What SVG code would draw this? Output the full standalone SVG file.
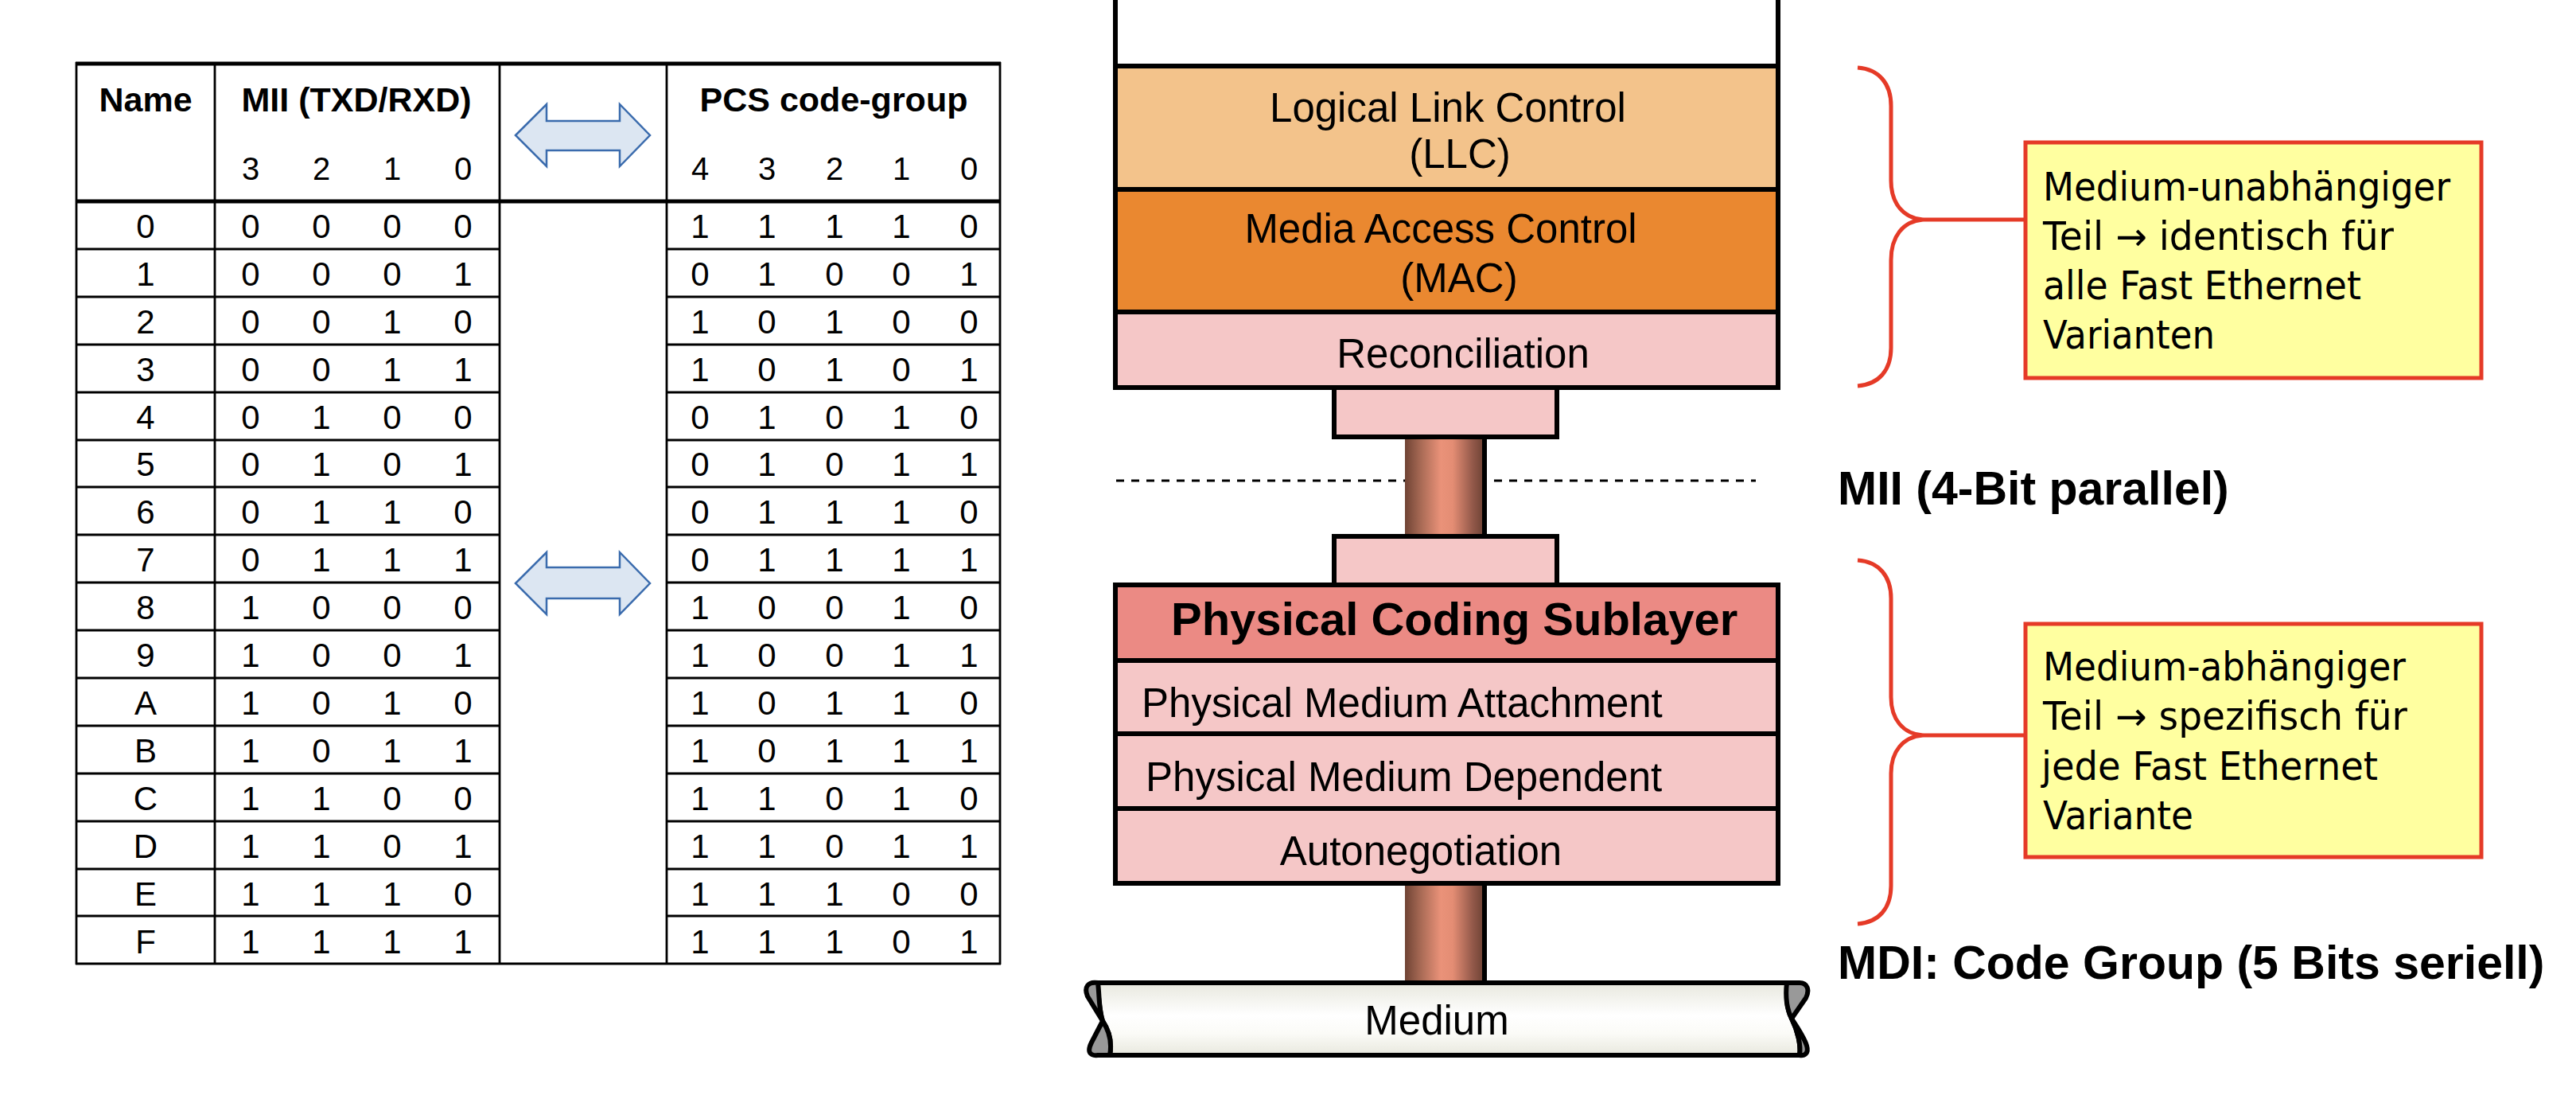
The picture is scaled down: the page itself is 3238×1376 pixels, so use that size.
<svg xmlns="http://www.w3.org/2000/svg" width="3238" height="1376" viewBox="0 0 3238 1376">
<style>
.t{font-family:"Liberation Sans",Arial,sans-serif;fill:#000}
.d{font-size:42px;text-anchor:middle}
.h{font-size:43px;font-weight:bold;text-anchor:middle}
.hb{font-size:40px;text-anchor:middle}
.g{stroke:#000;stroke-width:2.8;fill:none}
.gt{stroke:#000;stroke-width:5;fill:none}
.ly{stroke:#000;stroke-width:6}
.lt{font-size:51px}
.c{text-anchor:middle}
.lab{font-size:59px;font-weight:bold}
.co{font-family:"DejaVu Sans","Liberation Sans",sans-serif;font-size:49px;fill:#000}
.box{fill:#FFFFA0;stroke:#E53A27;stroke-width:5}
.br{fill:none;stroke:#E53A27;stroke-width:5}
.arr{fill:#DCE6F2;stroke:#3A6BAD;stroke-width:2.5}
</style>
<defs>
<linearGradient id="cu" x1="0" y1="0" x2="1" y2="0">
<stop offset="0" stop-color="#6F4334"/>
<stop offset="0.2" stop-color="#A86A55"/>
<stop offset="0.45" stop-color="#EA9279"/>
<stop offset="0.6" stop-color="#E48D74"/>
<stop offset="0.85" stop-color="#93594A"/>
<stop offset="1" stop-color="#6B4133"/>
</linearGradient>
<linearGradient id="med" x1="0" y1="0" x2="0" y2="1">
<stop offset="0" stop-color="#E8E8DE"/>
<stop offset="0.45" stop-color="#FFFFFF"/>
<stop offset="0.7" stop-color="#FBFBF7"/>
<stop offset="1" stop-color="#E8E8DE"/>
</linearGradient>
<filter id="blur" x="-5%" y="-200%" width="110%" height="500%">
<feGaussianBlur stdDeviation="3"/>
</filter>
</defs>
<rect width="3238" height="1376" fill="#fff"/>

<g id="table">
<rect x="95" y="80" width="1163" height="1131" fill="#fff"/>
<line class="gt" x1="95" y1="80" x2="1258" y2="80"/>
<line class="gt" x1="95" y1="253" x2="1258" y2="253"/>
<line class="g" x1="95" y1="1211" x2="1258" y2="1211"/>
<line class="g" x1="96" y1="78" x2="96" y2="1212"/>
<line class="g" x1="270" y1="78" x2="270" y2="1212"/>
<line class="g" x1="628" y1="78" x2="628" y2="1212"/>
<line class="g" x1="838" y1="78" x2="838" y2="1212"/>
<line class="g" x1="1257" y1="78" x2="1257" y2="1212"/>
<g class="g">
<path d="M95 313H628M838 313H1258M95 373H628M838 373H1258M95 433H628M838 433H1258M95 493H628M838 493H1258M95 553H628M838 553H1258M95 612H628M838 612H1258M95 672H628M838 672H1258M95 732H628M838 732H1258M95 792H628M838 792H1258M95 852H628M838 852H1258M95 912H628M838 912H1258M95 972H628M838 972H1258M95 1032H628M838 1032H1258M95 1092H628M838 1092H1258M95 1151H628M838 1151H1258"/>
</g>
<text class="t h" x="183" y="140">Name</text>
<text class="t h" x="448" y="140">MII (TXD/RXD)</text>
<text class="t h" x="1048" y="140">PCS code-group</text>
<g class="t hb">
<text x="315" y="226">3</text><text x="404" y="226">2</text><text x="493" y="226">1</text><text x="582" y="226">0</text>
<text x="880" y="226">4</text><text x="964" y="226">3</text><text x="1049" y="226">2</text><text x="1133" y="226">1</text><text x="1218" y="226">0</text>
</g>
<g class="t d">
<text x="183" y="299">0</text><text x="315" y="299">0</text><text x="404" y="299">0</text><text x="493" y="299">0</text><text x="582" y="299">0</text><text x="880" y="299">1</text><text x="964" y="299">1</text><text x="1049" y="299">1</text><text x="1133" y="299">1</text><text x="1218" y="299">0</text>
<text x="183" y="359">1</text><text x="315" y="359">0</text><text x="404" y="359">0</text><text x="493" y="359">0</text><text x="582" y="359">1</text><text x="880" y="359">0</text><text x="964" y="359">1</text><text x="1049" y="359">0</text><text x="1133" y="359">0</text><text x="1218" y="359">1</text>
<text x="183" y="419">2</text><text x="315" y="419">0</text><text x="404" y="419">0</text><text x="493" y="419">1</text><text x="582" y="419">0</text><text x="880" y="419">1</text><text x="964" y="419">0</text><text x="1049" y="419">1</text><text x="1133" y="419">0</text><text x="1218" y="419">0</text>
<text x="183" y="479">3</text><text x="315" y="479">0</text><text x="404" y="479">0</text><text x="493" y="479">1</text><text x="582" y="479">1</text><text x="880" y="479">1</text><text x="964" y="479">0</text><text x="1049" y="479">1</text><text x="1133" y="479">0</text><text x="1218" y="479">1</text>
<text x="183" y="539">4</text><text x="315" y="539">0</text><text x="404" y="539">1</text><text x="493" y="539">0</text><text x="582" y="539">0</text><text x="880" y="539">0</text><text x="964" y="539">1</text><text x="1049" y="539">0</text><text x="1133" y="539">1</text><text x="1218" y="539">0</text>
<text x="183" y="598">5</text><text x="315" y="598">0</text><text x="404" y="598">1</text><text x="493" y="598">0</text><text x="582" y="598">1</text><text x="880" y="598">0</text><text x="964" y="598">1</text><text x="1049" y="598">0</text><text x="1133" y="598">1</text><text x="1218" y="598">1</text>
<text x="183" y="658">6</text><text x="315" y="658">0</text><text x="404" y="658">1</text><text x="493" y="658">1</text><text x="582" y="658">0</text><text x="880" y="658">0</text><text x="964" y="658">1</text><text x="1049" y="658">1</text><text x="1133" y="658">1</text><text x="1218" y="658">0</text>
<text x="183" y="718">7</text><text x="315" y="718">0</text><text x="404" y="718">1</text><text x="493" y="718">1</text><text x="582" y="718">1</text><text x="880" y="718">0</text><text x="964" y="718">1</text><text x="1049" y="718">1</text><text x="1133" y="718">1</text><text x="1218" y="718">1</text>
<text x="183" y="778">8</text><text x="315" y="778">1</text><text x="404" y="778">0</text><text x="493" y="778">0</text><text x="582" y="778">0</text><text x="880" y="778">1</text><text x="964" y="778">0</text><text x="1049" y="778">0</text><text x="1133" y="778">1</text><text x="1218" y="778">0</text>
<text x="183" y="838">9</text><text x="315" y="838">1</text><text x="404" y="838">0</text><text x="493" y="838">0</text><text x="582" y="838">1</text><text x="880" y="838">1</text><text x="964" y="838">0</text><text x="1049" y="838">0</text><text x="1133" y="838">1</text><text x="1218" y="838">1</text>
<text x="183" y="898">A</text><text x="315" y="898">1</text><text x="404" y="898">0</text><text x="493" y="898">1</text><text x="582" y="898">0</text><text x="880" y="898">1</text><text x="964" y="898">0</text><text x="1049" y="898">1</text><text x="1133" y="898">1</text><text x="1218" y="898">0</text>
<text x="183" y="958">B</text><text x="315" y="958">1</text><text x="404" y="958">0</text><text x="493" y="958">1</text><text x="582" y="958">1</text><text x="880" y="958">1</text><text x="964" y="958">0</text><text x="1049" y="958">1</text><text x="1133" y="958">1</text><text x="1218" y="958">1</text>
<text x="183" y="1018">C</text><text x="315" y="1018">1</text><text x="404" y="1018">1</text><text x="493" y="1018">0</text><text x="582" y="1018">0</text><text x="880" y="1018">1</text><text x="964" y="1018">1</text><text x="1049" y="1018">0</text><text x="1133" y="1018">1</text><text x="1218" y="1018">0</text>
<text x="183" y="1078">D</text><text x="315" y="1078">1</text><text x="404" y="1078">1</text><text x="493" y="1078">0</text><text x="582" y="1078">1</text><text x="880" y="1078">1</text><text x="964" y="1078">1</text><text x="1049" y="1078">0</text><text x="1133" y="1078">1</text><text x="1218" y="1078">1</text>
<text x="183" y="1138">E</text><text x="315" y="1138">1</text><text x="404" y="1138">1</text><text x="493" y="1138">1</text><text x="582" y="1138">0</text><text x="880" y="1138">1</text><text x="964" y="1138">1</text><text x="1049" y="1138">1</text><text x="1133" y="1138">0</text><text x="1218" y="1138">0</text>
<text x="183" y="1198">F</text><text x="315" y="1198">1</text><text x="404" y="1198">1</text><text x="493" y="1198">1</text><text x="582" y="1198">1</text><text x="880" y="1198">1</text><text x="964" y="1198">1</text><text x="1049" y="1198">1</text><text x="1133" y="1198">0</text><text x="1218" y="1198">1</text>
</g>
</g>

<g id="arrow-header">
<polygon class="arr" points="648,170 687,131 687,152 779,152 779,131 817,170 779,209 779,189 687,189 687,209"/>
</g>
<g id="arrow-rows">
<polygon class="arr" points="648,733 687,694 687,713 779,713 779,694 817,733 779,772 779,752 687,752 687,772"/>
</g>

<g id="dashed-mii">
<line x1="1403" y1="614" x2="2207" y2="614" stroke="#B0B0B0" stroke-width="5" stroke-dasharray="10 9" filter="url(#blur)"/>
<line x1="1403" y1="604" x2="2207" y2="604" stroke="#000" stroke-width="3" stroke-dasharray="10 9"/>
</g>

<g id="cable-mii">
<rect x="1766" y="549" width="100" height="125" fill="url(#cu)"/>
<line x1="1866" y1="549" x2="1866" y2="674" stroke="#000" stroke-width="6"/>
</g>
<g id="cable-mdi">
<rect x="1766" y="1110" width="100" height="125" fill="url(#cu)"/>
<line x1="1866" y1="1110" x2="1866" y2="1235" stroke="#000" stroke-width="6"/>
</g>

<g id="upper-layer">
<rect class="ly" x="1402" y="-10" width="833" height="93" fill="#fff"/>
</g>
<g id="llc">
<rect class="ly" x="1402" y="83" width="833" height="155" fill="#F3C38B"/>
<text class="t lt c" x="1820" y="153">Logical Link Control</text>
<text class="t lt c" x="1835" y="211">(LLC)</text>
</g>
<g id="mac">
<rect class="ly" x="1402" y="238" width="833" height="154" fill="#EA8830"/>
<text class="t lt c" x="1811" y="305">Media Access Control</text>
<text class="t lt c" x="1834" y="367">(MAC)</text>
</g>
<g id="reconciliation">
<rect class="ly" x="1402" y="392" width="833" height="95" fill="#F5C7C7"/>
<text class="t lt c" x="1839" y="462">Reconciliation</text>
</g>
<g id="mii-upper-block">
<rect class="ly" x="1677" y="487" width="280" height="62" fill="#F5C7C7"/>
</g>
<g id="mii-lower-block">
<rect class="ly" x="1677" y="674" width="280" height="61" fill="#F5C7C7"/>
</g>
<g id="pcs">
<rect class="ly" x="1402" y="735" width="833" height="95" fill="#EB8A84"/>
<text class="t" x="1472" y="798" font-size="58" font-weight="bold">Physical Coding Sublayer</text>
</g>
<g id="pma">
<rect class="ly" x="1402" y="830" width="833" height="92" fill="#F5C7C7"/>
<text class="t lt" x="1435" y="901">Physical Medium Attachment</text>
</g>
<g id="pmd">
<rect class="ly" x="1402" y="922" width="833" height="94" fill="#F5C7C7"/>
<text class="t lt" x="1440" y="994">Physical Medium Dependent</text>
</g>
<g id="autonegotiation">
<rect class="ly" x="1402" y="1016" width="833" height="94" fill="#F5C7C7"/>
<text class="t lt c" x="1786" y="1087">Autonegotiation</text>
</g>

<g id="medium">
<path d="M1378,1235 L2250,1235 C2244,1252 2246,1268 2252,1280 C2260,1296 2264,1314 2262,1326 L1395,1326 C1398,1310 1394,1295 1386,1283 C1381,1268 1382,1250 1378,1235 Z" fill="url(#med)" stroke="#000" stroke-width="6" stroke-linejoin="round"/>
<path d="M1380,1235 C1368,1233 1362,1240 1367,1252 L1386,1283 L1372,1310 C1366,1322 1370,1327 1380,1326 L1395,1326 C1398,1310 1394,1295 1386,1283 C1381,1268 1382,1250 1380,1235 Z" fill="#999" stroke="#000" stroke-width="6" stroke-linejoin="round"/>
<path d="M2246,1235 L2262,1235 C2272,1235 2275,1244 2270,1254 L2252,1280 C2246,1268 2244,1252 2246,1235 Z" fill="#999" stroke="#000" stroke-width="6" stroke-linejoin="round"/>
<path d="M2252,1280 C2260,1292 2268,1304 2271,1314 C2274,1324 2268,1327 2262,1326 C2264,1314 2260,1296 2252,1280 Z" fill="#999" stroke="#000" stroke-width="6" stroke-linejoin="round"/>
<text class="t lt c" x="1806" y="1300">Medium</text>
</g>

<g id="label-mii">
<text class="t lab" x="2310" y="634" font-size="58">MII (4-Bit parallel)</text>
</g>
<g id="label-mdi">
<text class="t lab" x="2310" y="1230">MDI: Code Group (5 Bits seriell)</text>
</g>

<g id="connectors">
<path class="br" d="M2335,85 C2362,87 2377,105 2377,133 L2377,227 C2377,255 2392,274 2417,276 C2392,278 2377,297 2377,327 L2377,437 C2377,465 2362,483 2335,485"/>
<line class="br" x1="2417" y1="276" x2="2546" y2="276"/>
<path class="br" d="M2335,704 C2362,706 2377,724 2377,752 L2377,876 C2377,904 2392,922 2417,924 C2392,926 2377,944 2377,972 L2377,1113 C2377,1141 2362,1159 2335,1161"/>
<line class="br" x1="2417" y1="924" x2="2546" y2="924"/>
</g>

<g id="callout-independent">
<rect class="box" x="2546" y="179" width="573" height="296"/>
<text class="co" x="2568" y="252" textLength="512" lengthAdjust="spacingAndGlyphs">Medium-unabhängiger</text>
<text class="co" x="2568" y="314" textLength="441" lengthAdjust="spacingAndGlyphs">Teil → identisch für</text>
<text class="co" x="2568" y="376" textLength="400" lengthAdjust="spacingAndGlyphs">alle Fast Ethernet</text>
<text class="co" x="2568" y="438" textLength="216" lengthAdjust="spacingAndGlyphs">Varianten</text>
</g>
<g id="callout-dependent">
<rect class="box" x="2546" y="784" width="573" height="293"/>
<text class="co" x="2568" y="855" textLength="456" lengthAdjust="spacingAndGlyphs">Medium-abhängiger</text>
<text class="co" x="2568" y="917" textLength="458" lengthAdjust="spacingAndGlyphs">Teil → spezifisch für</text>
<text class="co" x="2566" y="980" textLength="423" lengthAdjust="spacingAndGlyphs">jede Fast Ethernet</text>
<text class="co" x="2568" y="1042" textLength="189" lengthAdjust="spacingAndGlyphs">Variante</text>
</g>
</svg>
